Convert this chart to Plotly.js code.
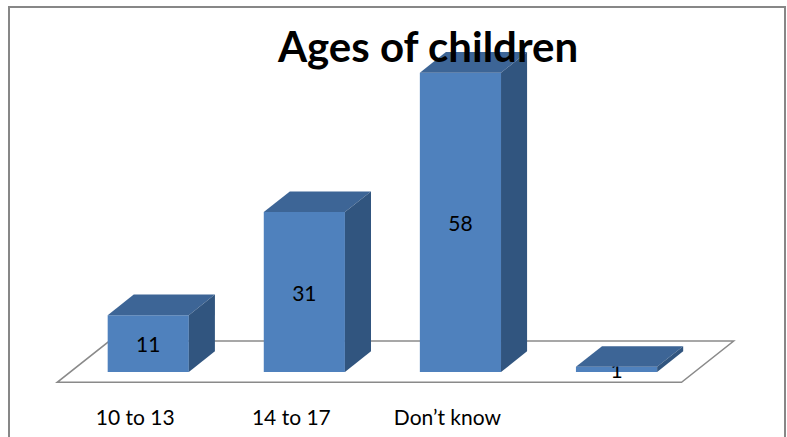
<!DOCTYPE html>
<html>
<head>
<meta charset="utf-8">
<script src="https://cdn.plot.ly/plotly-3.0.1.min.js"></script>
<style>
  html, body { margin: 0; padding: 0; background: #ffffff; }
  #chart { width: 787px; height: 437px; }
</style>
</head>
<body>
<div id="chart"></div>
<script>
// Survey answers: ages of the children
const categories = ['10 to 13', '14 to 17', 'Don\u2019t know', ''];
const counts = [11, 31, 58, 1];
const chartTitle = 'Ages of children';

// Box styling (Excel-like 3D columns)
const FRONT = '#4f81bd';
const TOP = '#3d6596';
const SIDE = '#31557f';
const FLOOR_LINE = '#8a8a8a';
const BAR_GAP = 0.48;          // fraction of the slot left empty
const HALF = (1 - BAR_GAP) / 2; // half width of a box, in x units
const DEPTH_X = 0.167;         // oblique depth offset, x units
const DEPTH_Y = 4;             // oblique depth offset, y units

// Plot geometry
const W = 787, H = 437;
const margin = { l: 39, r: 30, t: 40, b: 52, pad: 0 };
const xRange = [-0.7, 3.9];
const yRange = [-2.52, 64.34];

const positions = categories.map((_, i) => i);

// paper fractions for drawing the outer frame in pixels
const plotW = W - margin.l - margin.r;
const plotH = H - margin.t - margin.b;
const px2paperX = px => (px - margin.l) / plotW;
const py2paperY = py => (H - margin.b - py) / plotH;

const shapes = [];

// floor plane under the boxes
const f0 = -0.5, f1 = 1.5;   // depth span relative to the box depth
const xl = xRange[0] + 0.2, xr = xRange[1] - 0.4;
shapes.push({
  type: 'path', xref: 'x', yref: 'y', layer: 'below',
  path: `M ${xl + f0 * DEPTH_X} ${f0 * DEPTH_Y} L ${xr + f0 * DEPTH_X} ${f0 * DEPTH_Y} ` +
        `L ${xr + f1 * DEPTH_X} ${f1 * DEPTH_Y} L ${xl + f1 * DEPTH_X} ${f1 * DEPTH_Y} Z`,
  fillcolor: '#ffffff',
  line: { color: FLOOR_LINE, width: 1.5 }
});

// top and right faces of each box
positions.forEach((x, i) => {
  const v = counts[i];
  const a = x - HALF, b = x + HALF;
  shapes.push({
    type: 'path', xref: 'x', yref: 'y', layer: 'above',
    path: `M ${a} ${v} L ${a + DEPTH_X} ${v + DEPTH_Y} L ${b + DEPTH_X} ${v + DEPTH_Y} L ${b} ${v} Z`,
    fillcolor: TOP, line: { width: 0 }
  });
  shapes.push({
    type: 'path', xref: 'x', yref: 'y', layer: 'above',
    path: `M ${b} 0 L ${b} ${v} L ${b + DEPTH_X} ${v + DEPTH_Y} L ${b + DEPTH_X} ${DEPTH_Y} Z`,
    fillcolor: SIDE, line: { width: 0 }
  });
});

// outer chart frame
shapes.push({
  type: 'rect', xref: 'paper', yref: 'paper', layer: 'above',
  x0: px2paperX(9), x1: px2paperX(785),
  y0: py2paperY(445), y1: py2paperY(7),
  fillcolor: 'rgba(0,0,0,0)',
  line: { color: '#878787', width: 2 }
});

const trace = {
  type: 'bar',
  x: positions,
  y: counts,
  marker: { color: FRONT, line: { width: 0 } },
  text: counts.map(String),
  textposition: 'inside',
  insidetextanchor: 'middle',
  constraintext: 'none',
  textangle: 0,
  textfont: { family: 'Lato, sans-serif', size: 21, color: '#000000' },
  hoverinfo: 'skip',
  cliponaxis: false
};

const layout = {
  width: W, height: H,
  margin: margin,
  paper_bgcolor: '#ffffff',
  plot_bgcolor: 'rgba(0,0,0,0)',
  showlegend: false,
  bargap: BAR_GAP,
  title: {
    text: chartTitle,
    font: { family: 'Lato, sans-serif', size: 42, color: '#000000', weight: 'bold' },
    xref: 'container', x: 428 / W, xanchor: 'center',
    yref: 'container', y: 1 - 47 / H, yanchor: 'middle'
  },
  xaxis: {
    range: xRange,
    tickmode: 'array',
    tickvals: positions,
    ticktext: categories,
    ticks: '',
    showgrid: false, zeroline: false, showline: false,
    ticklabelshift: -13,
    ticklabelstandoff: 18,
    tickfont: { family: 'Lato, sans-serif', size: 21, color: '#000000' },
    fixedrange: true
  },
  yaxis: {
    range: yRange,
    visible: false,
    showgrid: false, zeroline: false,
    fixedrange: true
  },
  shapes: shapes
};

Plotly.newPlot('chart', [trace], layout, { displayModeBar: false, staticPlot: true });
</script>
</body>
</html>
